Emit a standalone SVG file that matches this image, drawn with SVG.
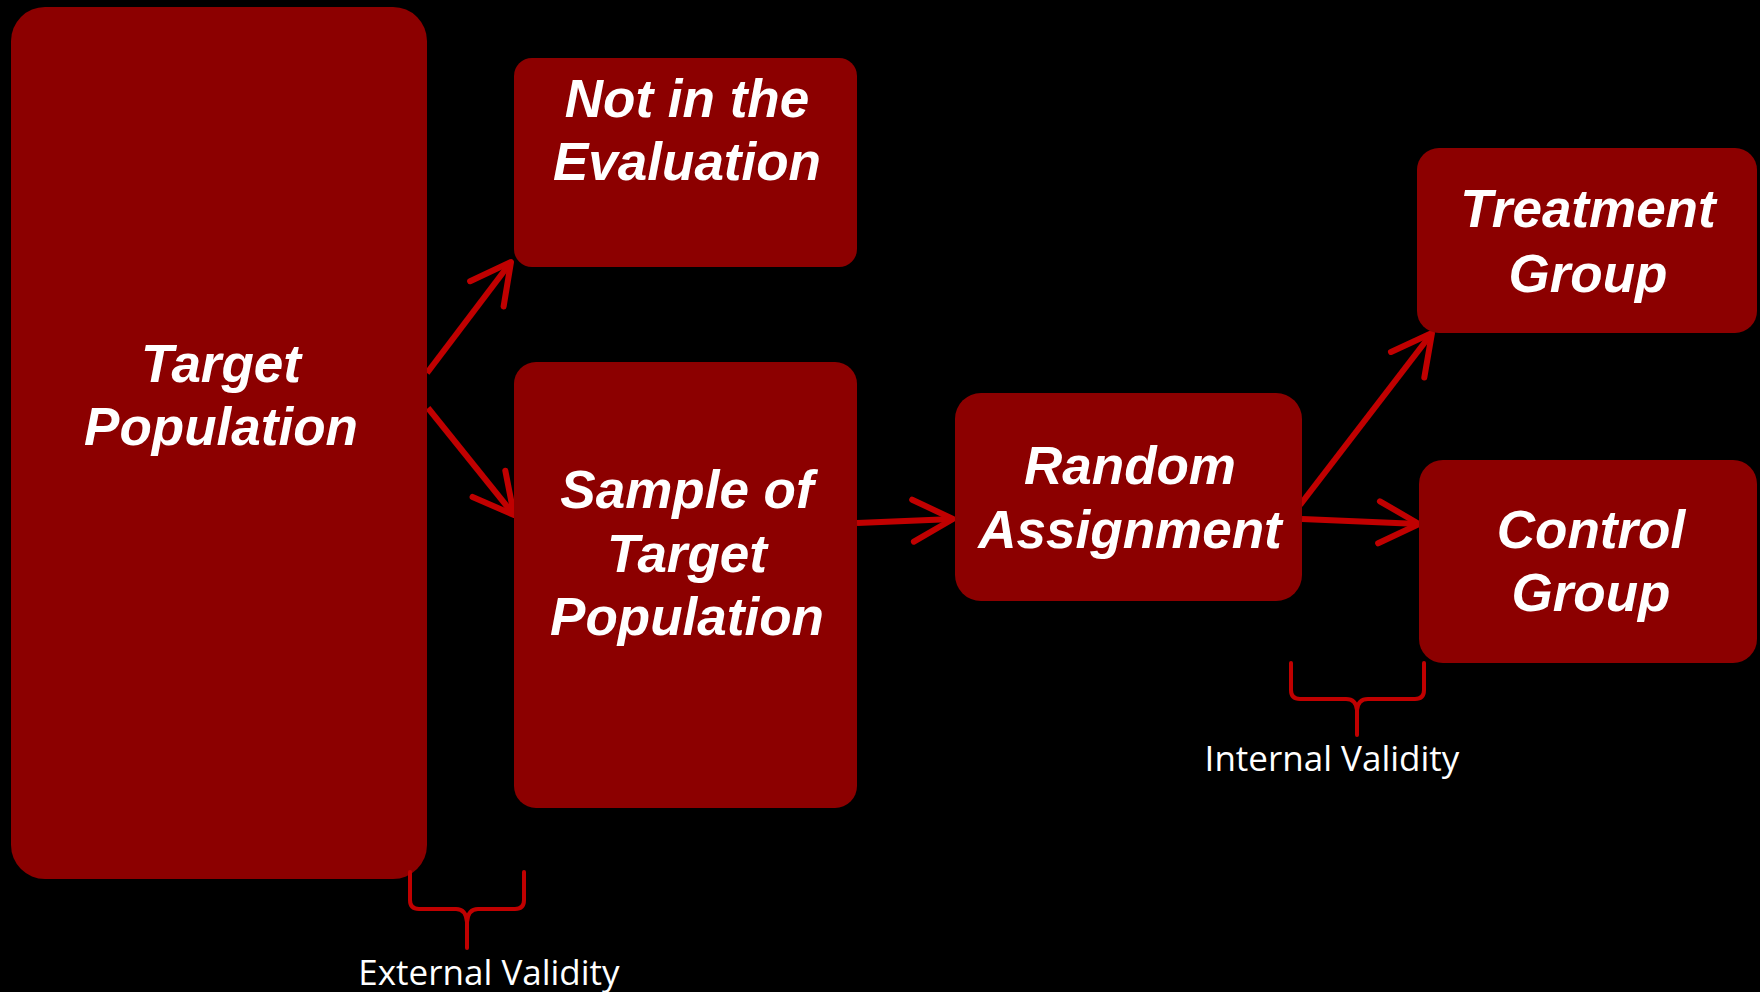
<svg xmlns="http://www.w3.org/2000/svg" width="1760" height="992" viewBox="0 0 1760 992">
<style>
.box{fill:#8C0000}
.t{font-family:"Liberation Sans",Arial,sans-serif;font-weight:bold;font-style:italic;font-size:53px;fill:#FFFFFF;text-anchor:middle}
.lbl{font-family:"Open Sans","Liberation Sans",sans-serif;font-size:35px;fill:#FFFFFF;text-anchor:middle}
.arrow{stroke:#C00000;stroke-width:6;fill:none;marker-end:url(#head)}
.brace{stroke:#C00000;stroke-width:4;fill:none;stroke-linecap:round;stroke-linejoin:round}
</style>
<defs>
<marker id="head" markerUnits="userSpaceOnUse" viewBox="-60 -40 80 80" markerWidth="80" markerHeight="80" refX="0" refY="0" orient="auto" overflow="visible">
<path d="M -40,-21 L 0,0 L -40,21" fill="none" stroke="#C00000" stroke-width="6" stroke-linecap="round" stroke-linejoin="round"/>
</marker>
</defs>
<rect x="0" y="0" width="1760" height="992" fill="#000000"/>
<g id="connectors">
<line class="arrow" x1="427" y1="373" x2="511" y2="262"/>
<line class="arrow" x1="428" y1="408" x2="514" y2="515"/>
<line class="arrow" x1="857" y1="523" x2="953" y2="519"/>
<line class="arrow" x1="1300" y1="505" x2="1432" y2="333"/>
<line class="arrow" x1="1302" y1="519" x2="1419" y2="524"/>
</g>
<g id="target">
<rect class="box" x="11" y="7" width="416" height="872" rx="34" ry="34"/>
<text class="t" x="221" y="382">Target</text>
<text class="t" x="221" y="445">Population</text>
</g>
<g id="not-in-eval">
<rect class="box" x="514" y="58" width="343" height="209" rx="18" ry="18"/>
<text class="t" x="687" y="117">Not in the</text>
<text class="t" x="687" y="180">Evaluation</text>
</g>
<g id="sample">
<rect class="box" x="514" y="362" width="343" height="446" rx="22" ry="22"/>
<text class="t" x="687" y="508">Sample of</text>
<text class="t" x="687" y="572">Target</text>
<text class="t" x="687" y="635">Population</text>
</g>
<g id="random">
<rect class="box" x="955" y="393" width="347" height="208" rx="26" ry="26"/>
<text class="t" x="1130" y="484">Random</text>
<text class="t" x="1130" y="548">Assignment</text>
</g>
<g id="treatment">
<rect class="box" x="1417" y="148" width="340" height="185" rx="22" ry="22"/>
<text class="t" x="1588" y="227">Treatment</text>
<text class="t" x="1588" y="292">Group</text>
</g>
<g id="control">
<rect class="box" x="1419" y="460" width="338" height="203" rx="24" ry="24"/>
<text class="t" x="1591" y="548">Control</text>
<text class="t" x="1591" y="611">Group</text>
</g>
<g id="external-validity">
<path class="brace" d="M 410,872 L 410,900 Q 410,909 419,909 L 456,909 Q 466,909 467,922 L 467,948"/>
<path class="brace" d="M 524,872 L 524,900 Q 524,909 515,909 L 478,909 Q 468,909 467,922"/>
<text class="lbl" x="489" y="985">External Validity</text>
</g>
<g id="internal-validity">
<path class="brace" d="M 1291,663 L 1291,690 Q 1291,699 1300,699 L 1346,699 Q 1356,699 1357,710 L 1357,735"/>
<path class="brace" d="M 1424,663 L 1424,690 Q 1424,699 1415,699 L 1368,699 Q 1358,699 1357,710"/>
<text class="lbl" x="1332" y="771">Internal Validity</text>
</g>
</svg>
